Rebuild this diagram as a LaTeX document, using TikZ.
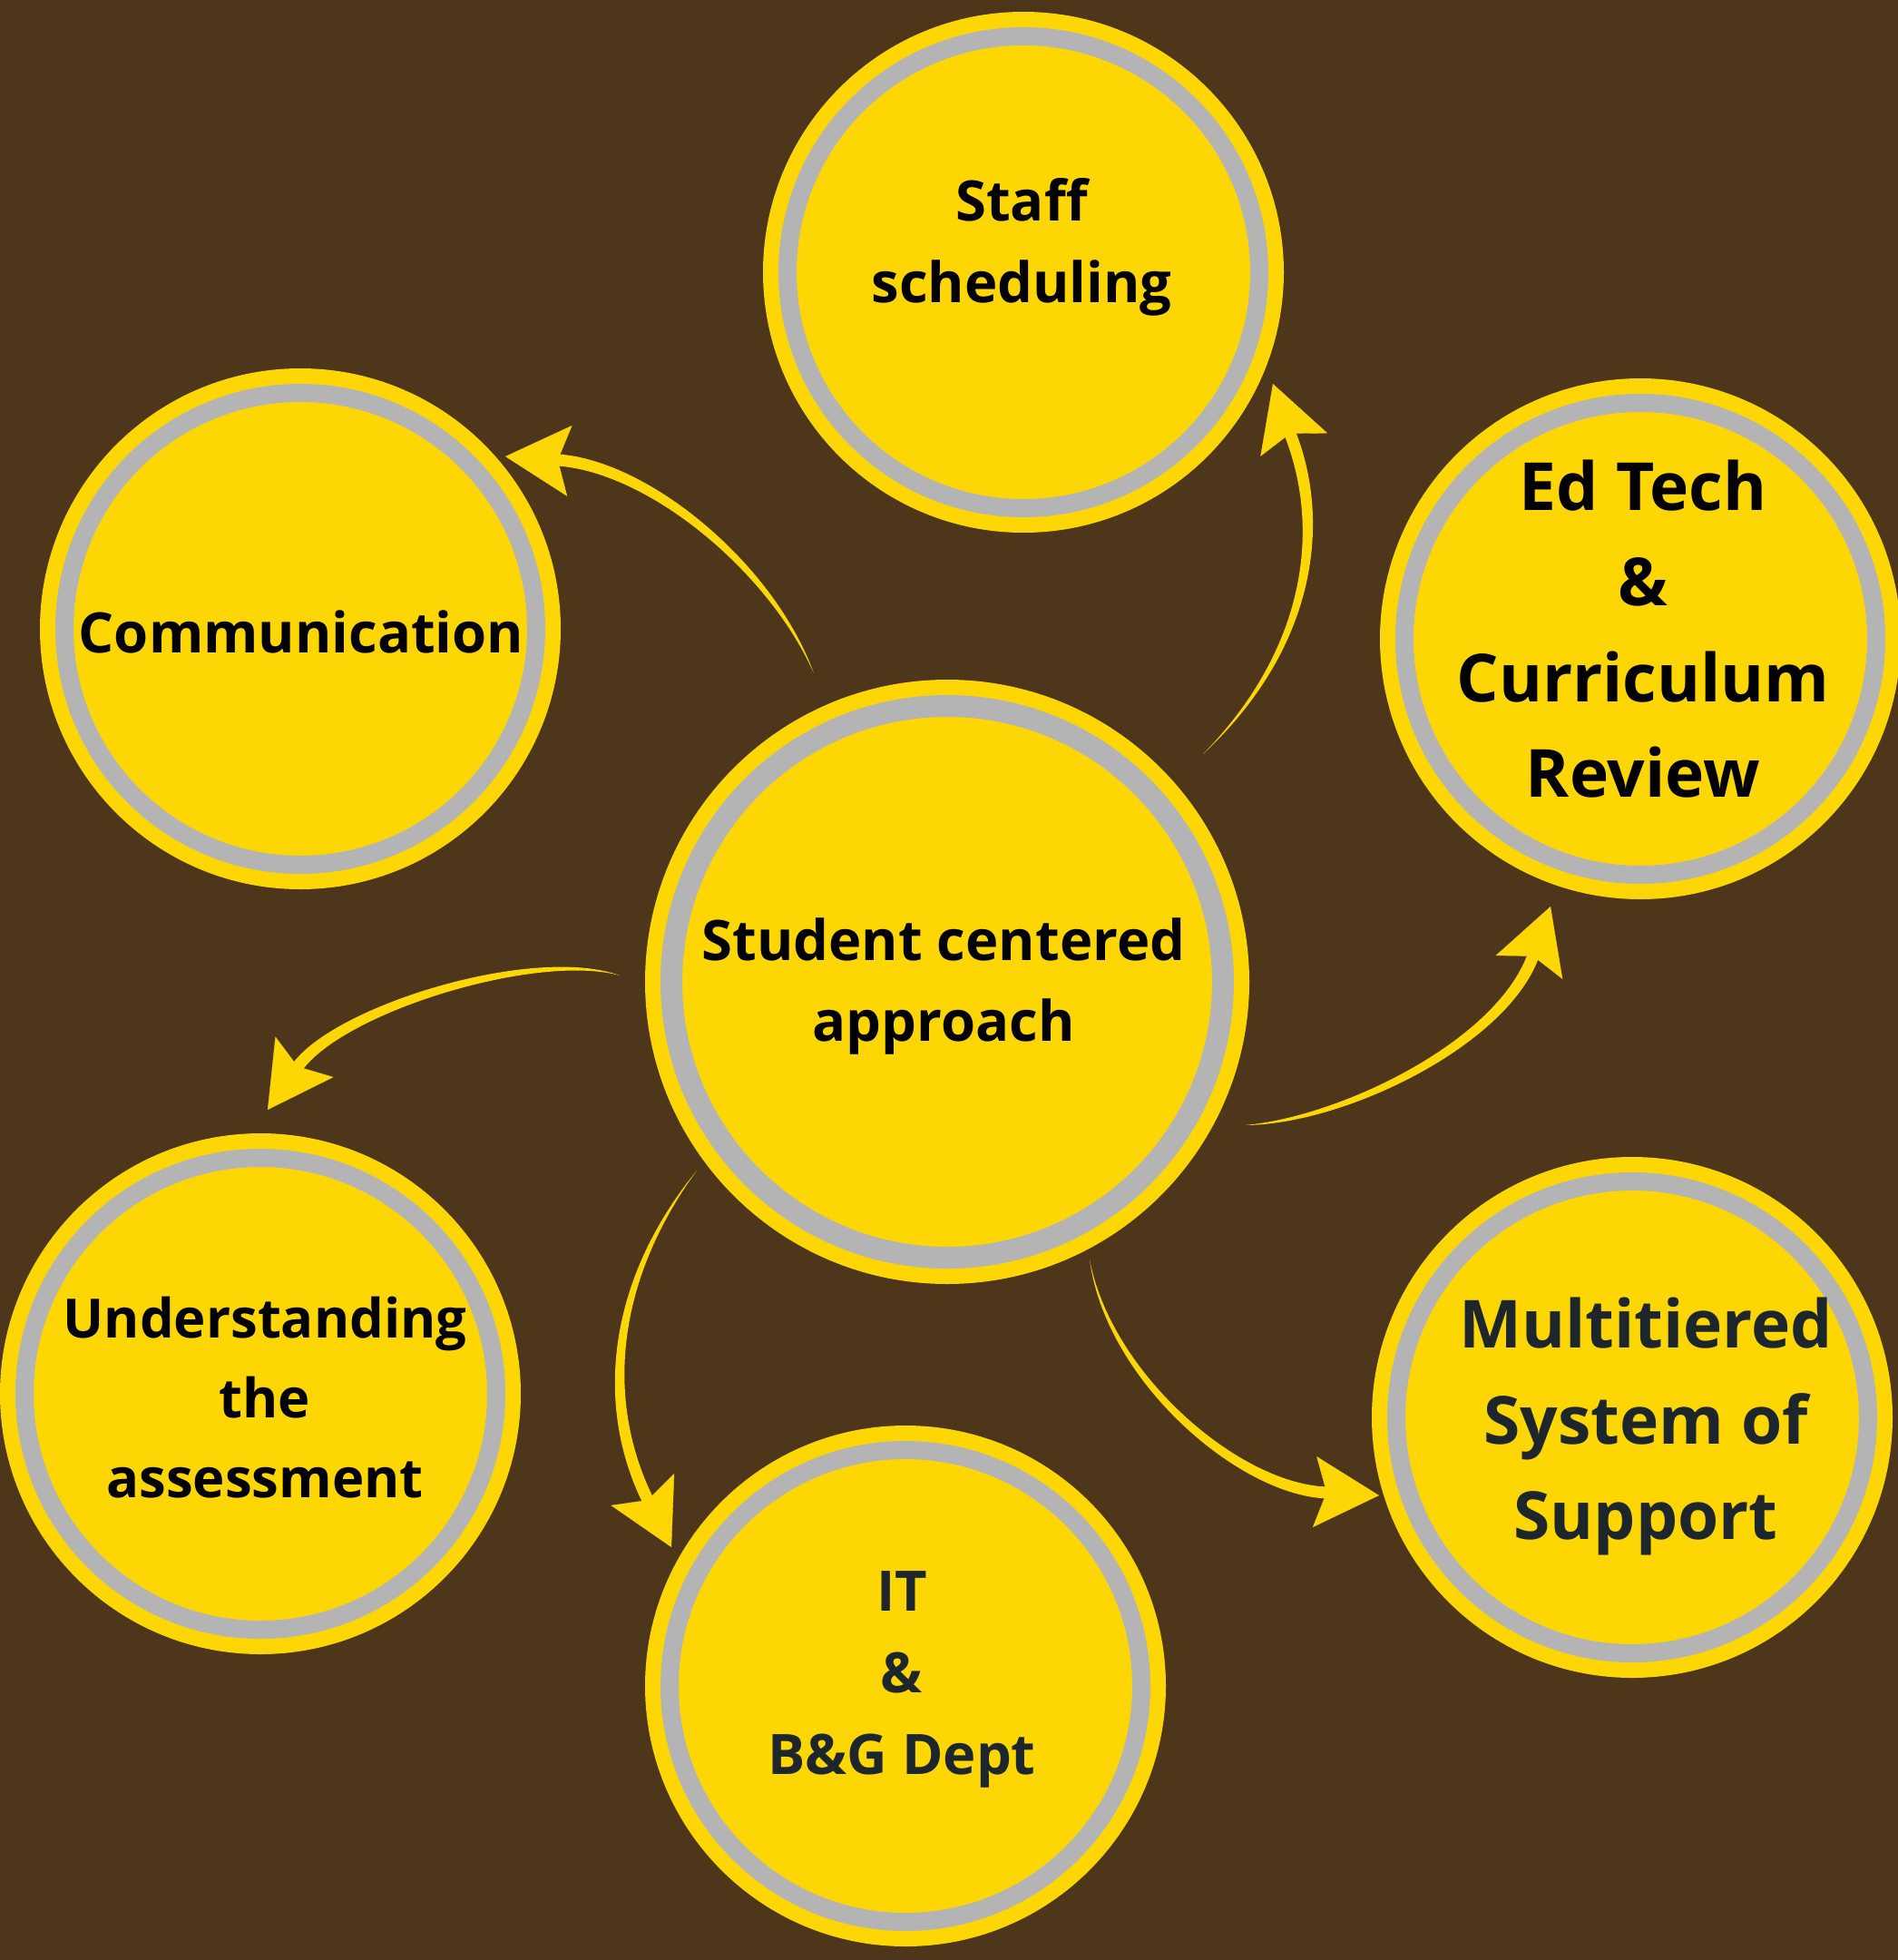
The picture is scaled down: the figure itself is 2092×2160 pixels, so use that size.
\documentclass[tikz,border=0pt]{standalone}
\usepackage{fontspec}
\setmainfont{Open Sans}
\usetikzlibrary{arrows.meta,calc}

\definecolor{bgbrown}{HTML}{4D361A}
\definecolor{discyellow}{HTML}{FDD603}
\definecolor{ringgray}{HTML}{B4B4B4}
\definecolor{inkdark}{HTML}{1D262B}

\tikzset{
  bubble/.style={circle, fill=discyellow, draw=discyellow, double=ringgray,
    line width=1.7mm, double distance=2mm, minimum size=52mm, inner sep=0pt},
  hubbubble/.style={bubble, double distance=2.4mm, minimum size=60.8mm},
  bubbletext/.style={font=\fontsize{17.5}{25.6}\selectfont\bfseries, align=center, text=black},
  bigtext/.style={bubbletext, font=\fontsize{20.8}{30}\selectfont\bfseries},
  swoosh/.style={-{Stealth[length=7.1mm, width=7.8mm, inset=1.3mm]}, draw=discyellow, line width=0.1pt}
}

% tapered shaft: start, control, control, end
\newcommand{\swooshbody}[4]{%
  \fill[discyellow] (#1) .. controls ($(#2)!0.5mm!90:(#3)$) and ($(#3)!0.65mm!90:(#4)$) .. ($(#4)!0.65mm!-90:(#3)$)
    -- ($(#4)!0.65mm!90:(#3)$) .. controls ($(#3)!0.65mm!-90:(#4)$) and ($(#2)!0.5mm!-90:(#3)$) .. cycle;}

\begin{document}
\begin{tikzpicture}[x=0.1mm, y=-0.1mm]
        \fill[bgbrown] (0,0) rectangle (2092,2160);
        \useasboundingbox (0,0) rectangle (2092,2160);

        \node[hubbubble] (hub) at (1044,1082) {};
        \node[bubble] (staff) at (1128,300) {};
        \node[bubble] (comm) at (331,693) {};
        \node[bubble] (edtech) at (1808,704) {};
        \node[bubble] (mtss) at (1799,1562) {};
        \node[bubble] (itdept) at (998,1858) {};
        \node[bubble] (assess) at (287,1536) {};

        \node[bubbletext] (hubtxt) at (1040,1087) {Student centered\\approach};
        \node[bubbletext] (stafftxt) at (1126,272) {Staff\\scheduling};
        \node[bubbletext] (commtxt) at (332,696) {Communication};
        \node[bigtext] (edtechtxt) at (1811,693) {Ed Tech\\\&\\Curriculum\\Review};
        \node[bigtext, text=inkdark] (mtsstxt) at (1814,1572) {Multitiered\\System of\\Support};
        \node[bubbletext, text=inkdark] (ittxt) at (994,1851) {IT\\\&\\B\&G Dept};
        \node[bubbletext, font=\fontsize{17}{25}\selectfont\bfseries] (assesstxt) at (292,1540) {Understanding\\the\\assessment};

        \coordinate (staffS) at (1326,831);
        \coordinate (staffM) at (1422,478);
        \coordinate (staffT) at (1403,423);
        \coordinate (commS) at (897,742);
        \coordinate (commM) at (615,507);
        \coordinate (commT) at (557,503);
        \coordinate (edtechS) at (1372,1240);
        \coordinate (edtechM) at (1690,1053);
        \coordinate (edtechT) at (1709,999);
        \coordinate (mtssS) at (1201,1388);
        \coordinate (mtssM) at (1466,1645);
        \coordinate (mtssT) at (1520,1648);
        \coordinate (itS) at (768,1290);
        \coordinate (itM) at (715,1655);
        \coordinate (itT) at (740,1705);
        \coordinate (assessS) at (683,1075);
        \coordinate (assessM) at (327,1177);
        \coordinate (assessT) at (295,1223);

        \swooshbody{staffS}{1445,715}{1462,580}{staffM}
        \swooshbody{commS}{850,625}{715,514}{commM}
        \swooshbody{edtechS}{1480,1235}{1655,1150}{edtechM}
        \swooshbody{mtssS}{1222,1520}{1370,1645}{mtssM}
        \swooshbody{itS}{675,1410}{660,1545}{itM}
        \swooshbody{assessS}{590,1045}{372,1112}{assessM}

        \draw[swoosh] (staffM) -- (staffT);
        \draw[swoosh] (commM) -- (commT);
        \draw[swoosh] (edtechM) -- (edtechT);
        \draw[swoosh] (mtssM) -- (mtssT);
        \draw[swoosh] (itM) -- (itT);
        \draw[swoosh] (assessM) -- (assessT);
\end{tikzpicture}
\end{document}
